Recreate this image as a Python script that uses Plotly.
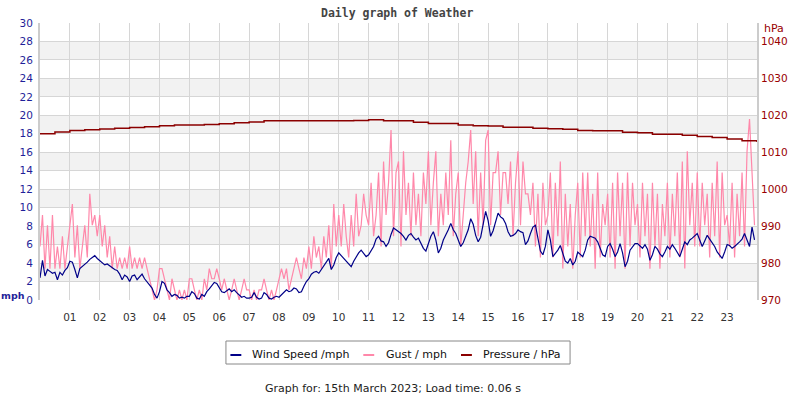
import plotly.graph_objects as go

# ---------------- data ----------------
# 5-minute samples, hours 00..23 (12 per hour)
wind_mph = [
    2.4, 4.3, 2.6, 3.3, 3.1, 2.9, 3.0, 2.2, 3.0, 2.7, 3.2, 3.5,
    4.2, 4.1, 3.3, 2.4, 3.4, 3.6, 3.9, 4.1, 4.4, 4.6, 4.8, 4.5,
    4.3, 4.0, 3.8, 3.9, 3.7, 3.4, 3.3, 3.2, 2.8, 2.2, 2.7, 2.5,
    2.0, 2.6, 2.7, 2.2, 2.5, 2.8, 2.3, 2.0, 1.6, 1.3, 0.6, 0.2,
    0.9, 2.0, 1.8, 1.1, 0.8, 0.4, 0.6, 0.5, 0.2, 0.3, 0.2, 0.4,
    0.4, 0.9, 0.7, 0.2, 0.1, 0.6, 0.4, 0.9, 1.2, 1.6, 1.9, 1.8,
    1.3, 0.9, 0.8, 1.0, 1.2, 0.9, 1.1, 0.8, 0.5, 0.3, 0.4, 0.2,
    0.2, 0.3, 0.8, 0.3, 0.1, 0.2, 0.8, 0.6, 0.2, 0.1, 0.3, 0.4,
    0.3, 0.6, 0.9, 1.1, 0.9, 1.0, 1.3, 1.2, 0.8, 0.9, 1.5, 2.0,
    2.3, 2.8, 3.0, 3.1, 2.9, 3.3, 3.6, 4.0, 4.5, 3.3, 3.8, 4.6,
    5.1, 4.8, 4.5, 4.2, 3.8, 3.6, 4.2, 4.7, 5.1, 5.4, 5.0, 4.7,
    4.9, 5.3, 5.8, 6.6, 6.9, 6.4, 6.3, 5.8, 6.2, 7.1, 7.8, 7.6,
    7.4, 7.2, 6.9, 6.5, 7.0, 7.2, 6.8, 6.5, 6.7, 6.2, 5.6, 5.3,
    6.2, 6.9, 7.4, 6.5, 5.1, 5.6, 6.5, 7.0, 7.6, 8.3, 7.6, 7.2,
    6.5, 5.8, 6.2, 6.9, 7.6, 8.8, 8.2, 7.0, 6.3, 6.8, 8.2, 9.6,
    8.6, 6.9, 7.5, 8.4, 9.4, 9.0, 8.8, 8.3, 7.4, 6.9, 7.0, 7.2,
    7.6, 7.4, 7.3, 6.0, 6.4, 7.2, 7.9, 8.1, 6.8, 5.3, 4.9, 5.8,
    7.6, 6.5, 4.7, 5.0, 5.4, 5.9, 4.9, 4.2, 4.0, 4.5, 3.8, 4.2,
    5.2, 5.0, 4.7, 5.4, 6.5, 6.9, 6.8, 6.7, 6.3, 5.6, 4.9, 4.7,
    5.8, 6.1, 5.5, 4.7, 5.2, 6.1, 5.1, 3.6, 4.2, 5.4, 5.8, 6.1,
    6.1, 5.8, 5.6, 6.0, 5.5, 4.3, 4.9, 5.8, 5.5, 5.0, 4.7, 5.2,
    5.8, 5.5, 6.0, 5.6, 5.2, 4.7, 5.5, 6.3, 6.0, 6.5, 6.7, 6.9,
    7.2, 6.5, 5.8, 6.4, 7.0, 6.6, 6.2, 5.8, 5.2, 4.8, 4.5, 5.2,
    6.0, 5.9, 5.6, 5.8, 6.0, 6.3, 6.6, 7.2, 6.5, 5.8, 7.9, 6.5,
]

gust_mph = [
    5.8, 9.2, 3.4, 8.1, 3.4, 9.2, 3.4, 5.8, 3.4, 6.9, 3.4, 5.8,
    8.1, 10.4, 4.6, 8.1, 3.4, 5.8, 8.1, 4.6, 11.5, 8.1, 9.2, 6.9,
    9.2, 5.8, 8.1, 4.6, 6.9, 3.4, 5.8, 3.4, 4.6, 3.4, 4.6, 3.4,
    5.8, 3.4, 4.6, 3.4, 4.6, 3.4, 4.6, 3.4, 2.3, 1.1, 0.0, 1.1,
    3.4, 3.4, 2.3, 1.1, 0.0, 2.3, 1.1, 0.0, 1.1, 0.0, 1.1, 0.0,
    2.3, 2.3, 1.1, 0.0, 1.1, 0.0, 2.3, 1.1, 3.4, 2.3, 2.3, 3.4,
    2.3, 1.1, 2.3, 1.1, 0.0, 1.1, 2.3, 1.1, 0.0, 1.1, 2.3, 1.1,
    1.1, 0.0, 1.1, 0.0, 1.1, 1.1, 2.3, 1.1, 0.0, 1.1, 0.0, 1.1,
    2.3, 3.4, 2.3, 3.4, 1.1, 2.3, 3.4, 4.6, 3.4, 2.3, 4.6, 3.4,
    5.8, 3.4, 6.9, 4.6, 5.8, 3.4, 6.9, 4.6, 8.1, 3.4, 10.4, 5.8,
    9.2, 5.8, 10.4, 6.9, 4.6, 9.2, 5.8, 11.5, 6.9, 8.1, 11.5, 9.2,
    8.1, 12.7, 6.9, 9.2, 13.8, 5.8, 15.0, 9.2, 12.7, 18.4, 6.9, 13.8,
    15.0, 5.8, 16.1, 9.2, 12.7, 6.9, 13.8, 8.1, 11.5, 6.9, 13.8, 10.4,
    16.1, 8.1, 12.7, 16.1, 6.9, 11.5, 8.1, 13.8, 9.2, 17.3, 6.9, 11.5,
    13.8, 5.8, 9.2, 12.7, 15.0, 18.4, 10.4, 16.1, 6.9, 13.8, 8.1, 17.3,
    18.4, 8.1, 13.8, 13.8, 16.1, 9.2, 13.8, 13.8, 10.4, 15.0, 6.9, 12.7,
    16.1, 8.1, 15.0, 11.5, 11.5, 9.2, 12.7, 5.8, 11.5, 4.6, 12.7, 8.1,
    9.2, 13.8, 4.6, 12.7, 6.9, 15.0, 3.4, 11.5, 5.8, 10.4, 3.4, 9.2,
    12.7, 4.6, 13.8, 6.9, 13.8, 5.8, 11.5, 3.4, 13.8, 4.6, 10.4, 8.1,
    11.5, 4.6, 12.7, 3.4, 13.8, 6.9, 12.7, 3.4, 13.8, 5.8, 12.7, 8.1,
    10.4, 4.6, 12.7, 6.9, 11.5, 3.4, 12.7, 5.8, 11.5, 3.4, 10.4, 6.9,
    12.7, 4.6, 11.5, 6.9, 13.8, 4.6, 15.0, 3.4, 16.1, 8.1, 12.7, 5.8,
    13.8, 5.8, 12.7, 8.1, 11.5, 4.6, 12.7, 6.9, 15.0, 4.6, 13.8, 8.1,
    9.2, 5.8, 12.7, 4.6, 11.5, 6.9, 13.8, 5.8, 16.1, 19.6, 13.8, 8.1,
]

# half-hourly pressure, 00:00 .. 24:00
pressure_hpa = [
    1015.0, 1015.5, 1015.9, 1016.1, 1016.3, 1016.5, 1016.7, 1016.9,
    1017.2, 1017.4, 1017.4, 1017.5, 1017.7, 1018.0, 1018.2, 1018.5,
    1018.5, 1018.5, 1018.5, 1018.5, 1018.5, 1018.6, 1018.8, 1018.5,
    1018.5, 1018.1, 1017.8, 1017.8, 1017.4, 1017.2, 1017.1, 1016.8,
    1016.8, 1016.5, 1016.4, 1016.2, 1015.9, 1015.8, 1015.8, 1015.4,
    1015.3, 1014.9, 1014.9, 1014.6, 1014.3, 1014.0, 1013.6, 1013.1,
    1012.8,
]

hour_ticks = list(range(1, 24))
hour_labels = ["%02d" % h for h in hour_ticks]
mph_ticks = list(range(0, 31, 2))
hpa_ticks = list(range(970, 1041, 10))

times = [h + m / 60 for h in range(24) for m in range(0, 60, 5)]
p_times = [i * 0.5 for i in range(len(pressure_hpa))]

# ---------------- styles ----------------
NAVY = "#000088"
PINK = "#ff88aa"
DRED = "#8b0000"
TICK_BLUE = "#1f1f99"
TICK_RED = "#990000"
GRID = "#d6d6d6"
BAND = "#f2f2f2"
FONT = "DejaVu Sans"

fig = go.Figure()
fig.add_trace(go.Scatter(x=times, y=gust_mph, mode="lines", name="Gust / mph",
                         line=dict(color=PINK, width=1.2), showlegend=False,
                         hoverinfo="skip"))
fig.add_trace(go.Scatter(x=times, y=wind_mph, mode="lines", name="Wind Speed /mph",
                         line=dict(color=NAVY, width=1.2), showlegend=False,
                         hoverinfo="skip"))
fig.add_trace(go.Scatter(x=p_times, y=pressure_hpa, mode="lines", name="Pressure / hPa",
                         line=dict(color=DRED, width=1.5, shape="hv"),
                         yaxis="y2", showlegend=False, hoverinfo="skip"))

shapes = []
# alternating background bands (grey between 2-4, 6-8, ...)
for lo in range(2, 30, 4):
    shapes.append(dict(type="rect", xref="paper", yref="y", x0=0, x1=1,
                       y0=lo, y1=lo + 2, fillcolor=BAND, line=dict(width=0),
                       layer="below"))

# legend box and swatches (paper coords)
def px_x(px):
    return (px - 40) / 723.0

def px_y(py):
    return (300 - py) / 277.0

shapes.append(dict(type="rect", xref="paper", yref="paper",
                   x0=px_x(227.5), x1=px_x(574.5), y0=px_y(364), y1=px_y(341),
                   line=dict(color="#888888", width=1), fillcolor="white"))
legend_items = [("Wind Speed /mph", NAVY, 232, 243, 251.5),
                ("Gust / mph", PINK, 366, 377, 386.5),
                ("Pressure / hPa", DRED, 464.5, 475.5, 484.5)]
annotations = []
for label, col, lx0, lx1, tx in legend_items:
    shapes.append(dict(type="line", xref="paper", yref="paper",
                       x0=px_x(lx0), x1=px_x(lx1), y0=px_y(355), y1=px_y(355),
                       line=dict(color=col, width=2)))
    annotations.append(dict(text=label, xref="paper", yref="paper",
                            x=px_x(tx), y=px_y(354.5), xanchor="left",
                            yanchor="middle", showarrow=False,
                            font=dict(family=FONT, size=11, color="#111111")))

annotations += [
    dict(text="<b>Daily graph of Weather</b>", xref="paper", yref="paper",
         x=px_x(400), y=px_y(13), xanchor="center", yanchor="middle",
         showarrow=False,
         font=dict(family="DejaVu Sans Mono", size=11.5, color="#444444")),
    dict(text="Graph for: 15th March 2023; Load time: 0.06 s", xref="paper",
         yref="paper", x=px_x(396), y=px_y(388), xanchor="center",
         yanchor="middle", showarrow=False,
         font=dict(family=FONT, size=11, color="#222222")),
    dict(text="<b>mph</b>", xref="paper", yref="paper", x=px_x(0),
         y=px_y(295), xanchor="left", yanchor="middle", showarrow=False,
         borderpad=0,
         font=dict(family=FONT, size=9.5, color=TICK_BLUE)),
    dict(text="hPa", xref="paper", yref="paper", x=px_x(792), y=px_y(29),
         xanchor="right", yanchor="middle", showarrow=False,
         font=dict(family=FONT, size=11, color=TICK_RED)),
]

fig.update_layout(
    width=800, height=400,
    margin=dict(l=40, r=37, t=23, b=100, pad=0),
    paper_bgcolor="white", plot_bgcolor="white",
    showlegend=False,
    shapes=shapes, annotations=annotations,
    xaxis=dict(range=[0, 24], tickmode="array", tickvals=hour_ticks,
               ticktext=hour_labels, showgrid=True, gridcolor=GRID,
               gridwidth=1, zeroline=False, showline=False, ticks="",
               ticklabelstandoff=9,
               tickfont=dict(family=FONT, size=10.5, color="#333333")),
    yaxis=dict(range=[0, 30], tickmode="array", tickvals=mph_ticks,
               showgrid=True, gridcolor=GRID, gridwidth=1, zeroline=False,
               showline=True, linecolor="#cccccc", linewidth=2, mirror=True,
               ticks="", ticklabelstandoff=3,
               tickfont=dict(family=FONT, size=10.5, color=TICK_BLUE)),
    yaxis2=dict(range=[970, 1045], overlaying="y", side="right",
                tickmode="array", tickvals=hpa_ticks, showgrid=False,
                zeroline=False, showline=False, ticks="", ticklabelstandoff=3,
                tickfont=dict(family=FONT, size=10.5, color=TICK_RED)),
)

fig.write_html("out.html")
